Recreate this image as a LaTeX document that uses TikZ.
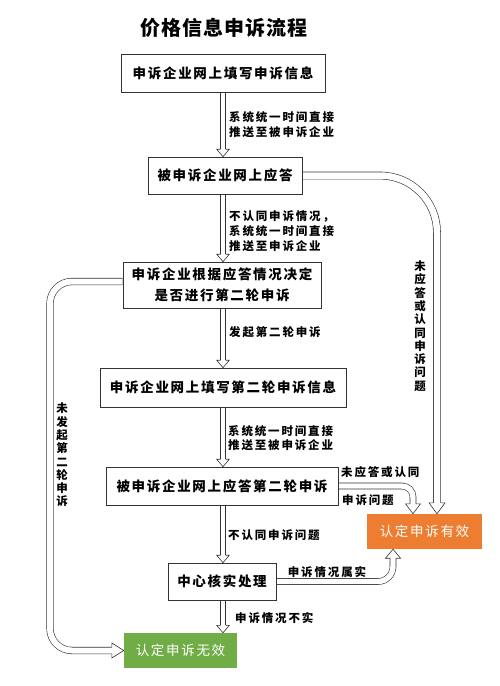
\documentclass[tikz,border=0pt]{standalone}
\usepackage{fontspec}
\newfontfamily\titlef{Noto Sans CJK SC}[LetterSpace=5]
\newfontfamily\boxf{Noto Sans CJK SC}[LetterSpace=12.5]
\newfontfamily\lblf{Noto Sans CJK SC}[LetterSpace=16]
\newfontfamily\vf{Noto Sans CJK SC}
\usetikzlibrary{calc,backgrounds}
\definecolor{orgc}{HTML}{ED7D31}
\definecolor{grnc}{HTML}{70AD47}
\definecolor{lnc}{HTML}{333333}
\tikzset{
  pics/ahead/.style n args={3}{code={
    \draw[draw=lnc, line width=0.6pt, fill=white, line join=miter]
      (-#1,#3) -- (-#2,#3) -- (0pt,0pt) -- (#2,#3) -- (#1,#3);}},
  dblw/.style={draw=lnc, line width=0.6pt, double=white, double distance=#1},
  box/.style={draw=lnc, line width=0.6pt, fill=white, inner sep=0pt, align=center,
    font=\boxf\bfseries\fontsize{13.5}{21}\selectfont},
  endbox/.style={inner sep=0pt, align=center, text=white, fill=#1,
    font=\boxf\fontsize{13.5}{21}\selectfont},
  lbl/.style={inner sep=0pt, align=left, anchor=west,
    font=\lblf\bfseries\fontsize{11.5}{15}\selectfont},
  vlbl/.style={inner sep=0pt, align=center,
    font=\vf\bfseries\fontsize{11.5}{13.3}\selectfont},
}
\begin{document}
\begin{tikzpicture}[x=1pt,y=-1pt]
\useasboundingbox (0,0) rectangle (500,686);

\node[font=\titlef\bfseries\fontsize{20}{24}\selectfont, inner sep=0pt] (title) at (224,28) {价格信息申诉流程};

\node[box, minimum width=204pt, minimum height=38pt] (b1) at (223,73) {申诉企业网上填写申诉信息};
\node[box, minimum width=154pt, minimum height=37pt] (b2) at (225,175.5) {被申诉企业网上应答};
\node[box, minimum width=198pt, minimum height=46pt] (b3) at (222,285) {申诉企业根据应答情况决定\\是否进行第二轮申诉};
\node[box, minimum width=246pt, minimum height=39pt] (b4) at (223,387.5) {申诉企业网上填写第二轮申诉信息};
\node[box, minimum width=232pt, minimum height=38pt] (b5) at (222,486) {被申诉企业网上应答第二轮申诉};
\node[box, minimum width=108pt, minimum height=37pt] (b6) at (222,581.5) {中心核实处理};
\node[endbox=orgc, minimum width=115pt, minimum height=35pt] (ok) at (424.5,531.5) {认定申诉有效};
\node[endbox=grnc, minimum width=113pt, minimum height=35pt] (no) at (180.5,650.5) {认定申诉无效};

\coordinate (ax) at (223,0);
\coordinate (lx) at (50,0);
\coordinate (o1) at ([xshift=12.5pt]ok.north);
\coordinate (o2) at ([xshift=-11.5pt]ok.north);
\coordinate (o3) at ([xshift=-31.5pt]ok.south);
\coordinate (s3) at ([yshift=3.5pt]b3.west);

\begin{scope}[on background layer]
  \fill[white] (0,0) rectangle (500,686);
  \foreach \a/\b in {b1/b2,b2/b3,b3/b4,b4/b5,b5/b6,b6/no}{
    \draw[dblw=4.4pt, shorten >=7.5pt] (\a.south -| ax) -- (\b.north -| ax);
    \pic at (\b.north -| ax) {ahead={2.5pt}{6.3pt}{7.5pt}};
  }
  \draw[dblw=6.5pt, rounded corners=57pt, shorten >=11pt] (b2.east) -| (o1);
  \pic at (o1) {ahead={3.55pt}{8pt}{11pt}};
  \draw[dblw=5.4pt, rounded corners=11pt, shorten >=10pt] (b5.east) -| (o2);
  \pic at (o2) {ahead={3pt}{7.5pt}{10pt}};
  \draw[dblw=5.4pt, rounded corners=15pt, shorten >=9pt] (b6.east) -| (o3);
  \pic[rotate=180] at (o3) {ahead={3pt}{7.5pt}{9pt}};
  \draw[dblw=6pt, rounded corners=22pt, shorten >=12pt]
    (s3) -- (s3 -| lx) -- (no.west -| lx) -- (no.west);
  \pic[rotate=90] at (no.west) {ahead={3.3pt}{7.5pt}{12pt}};
\end{scope}

\node[lbl] (l1) at (229,125) {系统统一时间直接\\推送至被申诉企业};
\node[lbl] (l2) at (229,231) {不认同申诉情况，\\系统统一时间直接\\推送至申诉企业};
\node[lbl] (l3) at (229,332) {发起第二轮申诉};
\node[lbl, font=\lblf\bfseries\fontsize{11.5}{13.5}\selectfont] (l4) at (228,438) {系统统一时间直接\\推送至被申诉企业};
\node[lbl] (l5) at (228,535) {不认同申诉问题};
\node[lbl] (l6) at (235,618) {申诉情况不实};
\node[lbl, anchor=center] (l7) at (327,572) {申诉情况属实};
\node[lbl] (l8) at (341,472) {未应答或认同};
\node[lbl] (l9) at (342,500) {申诉问题};
\node[vlbl] (v1) at (420,326) {未\\应\\答\\或\\认\\同\\申\\诉\\问\\题};
\node[vlbl] (v2) at (62,455) {未\\发\\起\\第\\二\\轮\\申\\诉};
\end{tikzpicture}
\end{document}
